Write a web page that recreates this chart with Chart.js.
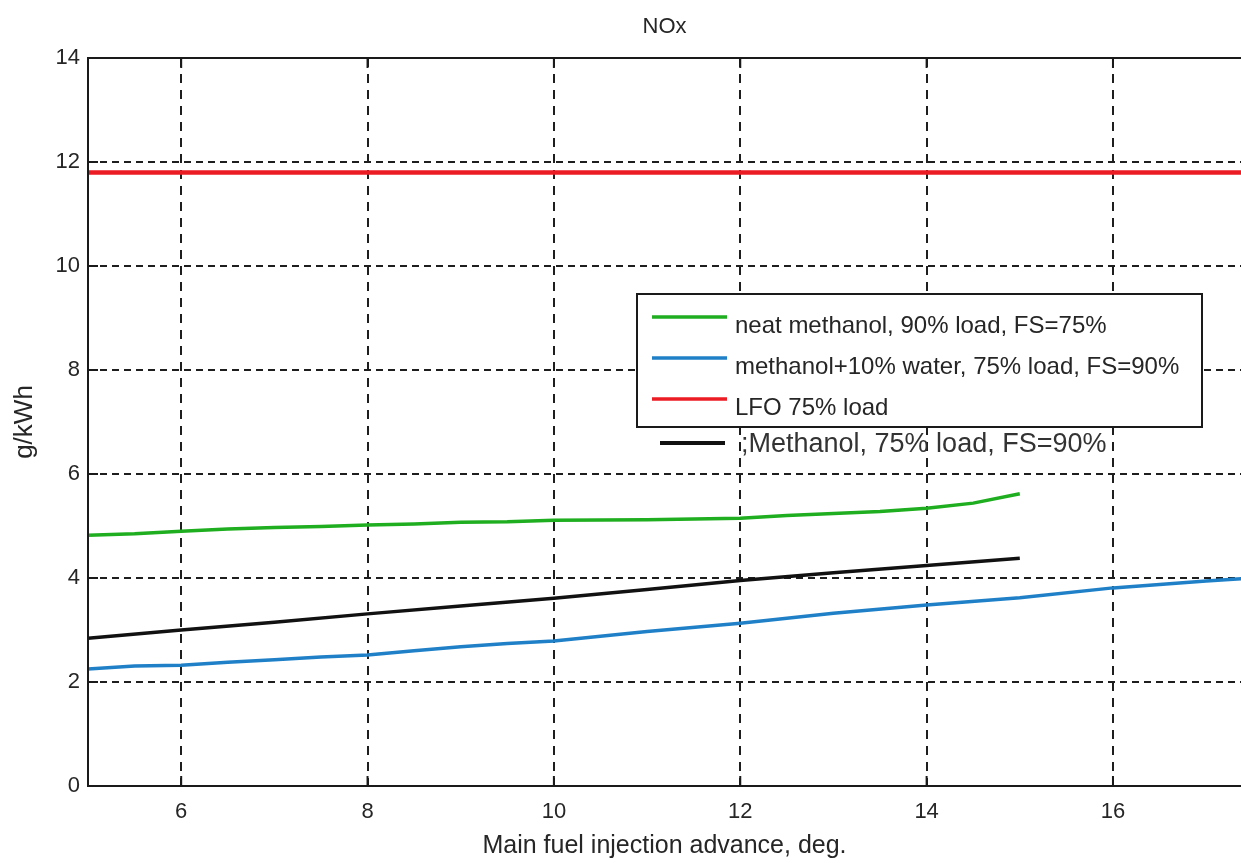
<!DOCTYPE html>
<html>
<head>
<meta charset="utf-8">
<script src="https://cdn.jsdelivr.net/npm/chart.js@4.4.1/dist/chart.umd.min.js"></script>
<style>
html,body{margin:0;padding:0;background:#fff;overflow:hidden}
#wrap{width:1241px;height:863px}
</style>
</head>
<body>
<div id="wrap"><canvas id="c" width="1241" height="863"></canvas></div>
<script>
// ---------- data ----------
const chartTitle = 'NOx';
const xAxisTitle = 'Main fuel injection advance, deg.';
const yAxisTitle = 'g/kWh';
const xTickValues = [6, 8, 10, 12, 14, 16];
const yTickValues = [0, 2, 4, 6, 8, 10, 12, 14];

const seriesLabels = [
  'neat methanol, 90% load, FS=75%',
  'methanol+10% water, 75% load, FS=90%',
  'LFO 75% load',
  ';Methanol, 75% load, FS=90%'
];

const greenX = [5, 5.5, 6, 6.5, 7, 7.5, 8, 8.5, 9, 9.5, 10, 11, 12, 12.5, 13, 13.5, 14, 14.5, 15];
const greenY = [4.82, 4.85, 4.9, 4.94, 4.97, 4.99, 5.02, 5.04, 5.07, 5.08, 5.11, 5.12, 5.15, 5.2, 5.24, 5.28, 5.34, 5.44, 5.62];

const blueX = [5, 5.5, 6, 6.5, 7, 7.5, 8, 8.5, 9, 9.5, 10, 11, 12, 13, 14, 15, 16, 17, 17.4];
const blueY = [2.25, 2.31, 2.32, 2.38, 2.43, 2.48, 2.52, 2.6, 2.68, 2.74, 2.79, 2.97, 3.13, 3.32, 3.48, 3.62, 3.81, 3.94, 3.99];

const redX = [5, 17.4];
const redY = [11.8, 11.8];

const blackX = [5, 6, 7, 8, 9, 10, 11, 12, 13, 14, 15];
const blackY = [2.84, 3.0, 3.15, 3.31, 3.46, 3.61, 3.78, 3.95, 4.1, 4.24, 4.38];

const seriesColors = ['#1fae1f', '#1f80c8', '#ec1c24', '#111111'];

// ---------- helpers ----------
const FONT = '"Liberation Sans", Arial, Helvetica, sans-serif';
const TEXT = '#262626';
const zip = (xs, ys) => xs.map((x, i) => ({x: x, y: ys[i]}));

const datasets = [
  {label: seriesLabels[0], data: zip(greenX, greenY), borderColor: seriesColors[0], borderWidth: 3.5},
  {label: seriesLabels[1], data: zip(blueX, blueY), borderColor: seriesColors[1], borderWidth: 3.5},
  {label: seriesLabels[2], data: zip(redX, redY), borderColor: seriesColors[2], borderWidth: 4.5},
  {label: seriesLabels[3], data: zip(blackX, blackY), borderColor: seriesColors[3], borderWidth: 3.5}
].map(d => Object.assign(d, {pointRadius: 0, fill: false, tension: 0}));

// frame + inward tick marks (MATLAB style)
const framePlugin = {
  id: 'frame',
  afterDatasetsDraw(chart) {
    const {ctx, chartArea: a, scales} = chart;
    ctx.save();
    ctx.strokeStyle = '#1a1a1a';
    ctx.lineWidth = 2;
    ctx.beginPath();
    ctx.moveTo(a.right + 2, a.top);
    ctx.lineTo(a.left, a.top);
    ctx.lineTo(a.left, a.bottom);
    ctx.lineTo(a.right + 2, a.bottom);
    ctx.stroke();
    const tl = 10;
    ctx.beginPath();
    scales.x.ticks.forEach(t => {
      const px = scales.x.getPixelForValue(t.value);
      ctx.moveTo(px, a.bottom); ctx.lineTo(px, a.bottom - tl);
      ctx.moveTo(px, a.top); ctx.lineTo(px, a.top + tl);
    });
    scales.y.ticks.forEach(t => {
      const py = scales.y.getPixelForValue(t.value);
      ctx.moveTo(a.left, py); ctx.lineTo(a.left + tl, py);
    });
    ctx.stroke();
    ctx.restore();
  }
};

// legend box inside plot + loose annotation entry below it
const legendPlugin = {
  id: 'boxLegend',
  afterDraw(chart) {
    const {ctx, chartArea: a} = chart;
    const ds = chart.data.datasets;
    const bx = a.left + 549, by = a.top + 236, bw = 565, bh = 133;
    ctx.save();
    ctx.fillStyle = '#fff';
    ctx.fillRect(bx, by, bw, bh);
    ctx.strokeStyle = '#1a1a1a';
    ctx.lineWidth = 2;
    ctx.strokeRect(bx, by, bw, bh);
    ctx.textAlign = 'left';
    ctx.textBaseline = 'alphabetic';
    for (let i = 0; i < 3; i++) {
      const ly = by + 23 + i * 41;
      ctx.strokeStyle = ds[i].borderColor;
      ctx.lineWidth = 3.5;
      ctx.beginPath();
      ctx.moveTo(bx + 15, ly); ctx.lineTo(bx + 90, ly);
      ctx.stroke();
      ctx.fillStyle = TEXT;
      ctx.font = '24px ' + FONT;
      ctx.fillText(ds[i].label, bx + 98, ly + 16);
    }
    // black entry outside the box
    const ly = by + bh + 16;
    ctx.strokeStyle = ds[3].borderColor;
    ctx.lineWidth = 4;
    ctx.beginPath();
    ctx.moveTo(bx + 23, ly); ctx.lineTo(bx + 88, ly);
    ctx.stroke();
    ctx.fillStyle = '#333';
    ctx.font = '27px ' + FONT;
    ctx.fillText(ds[3].label, bx + 104, ly + 9);
    ctx.restore();
  }
};

const yGridColor = c => (c.tick && (c.tick.value === 0 || c.tick.value === 14)) ? 'rgba(0,0,0,0)' : '#1e1e1e';

new Chart(document.getElementById('c').getContext('2d'), {
  type: 'line',
  data: {datasets: datasets},
  options: {
    responsive: false,
    animation: false,
    devicePixelRatio: 1,
    layout: {padding: 0},
    plugins: {
      legend: {display: false},
      tooltip: {enabled: false},
      title: {
        display: true, text: chartTitle, fullSize: false, color: TEXT,
        font: {family: FONT, size: 22, weight: 'normal'},
        padding: {top: 14, bottom: 17.6}
      }
    },
    scales: {
      x: {
        type: 'linear', min: 5, max: 17.374,
        afterBuildTicks: s => { s.ticks = xTickValues.map(v => ({value: v})); },
        afterFit: s => { s.height = 77; },
        ticks: {font: {family: FONT, size: 22}, color: TEXT, padding: 13, maxRotation: 0, autoSkip: false},
        grid: {color: '#1e1e1e', lineWidth: 2, drawTicks: false},
        border: {display: false, dash: [9, 7]},
        title: {display: true, text: xAxisTitle, color: TEXT, font: {family: FONT, size: 25}, padding: {top: 2, bottom: 2}}
      },
      y: {
        type: 'linear', min: 0, max: 14,
        afterBuildTicks: s => { s.ticks = yTickValues.map(v => ({value: v})); },
        afterFit: s => { s.width = 88; },
        ticks: {font: {family: FONT, size: 22}, color: TEXT, padding: 8},
        grid: {color: yGridColor, lineWidth: 2, drawTicks: false},
        border: {display: false, dash: [7, 5]},
        title: {display: true, text: yAxisTitle, color: TEXT, font: {family: FONT, size: 26}, padding: {top: 9, bottom: 0}}
      }
    }
  },
  plugins: [framePlugin, legendPlugin]
});
</script>
</body>
</html>
